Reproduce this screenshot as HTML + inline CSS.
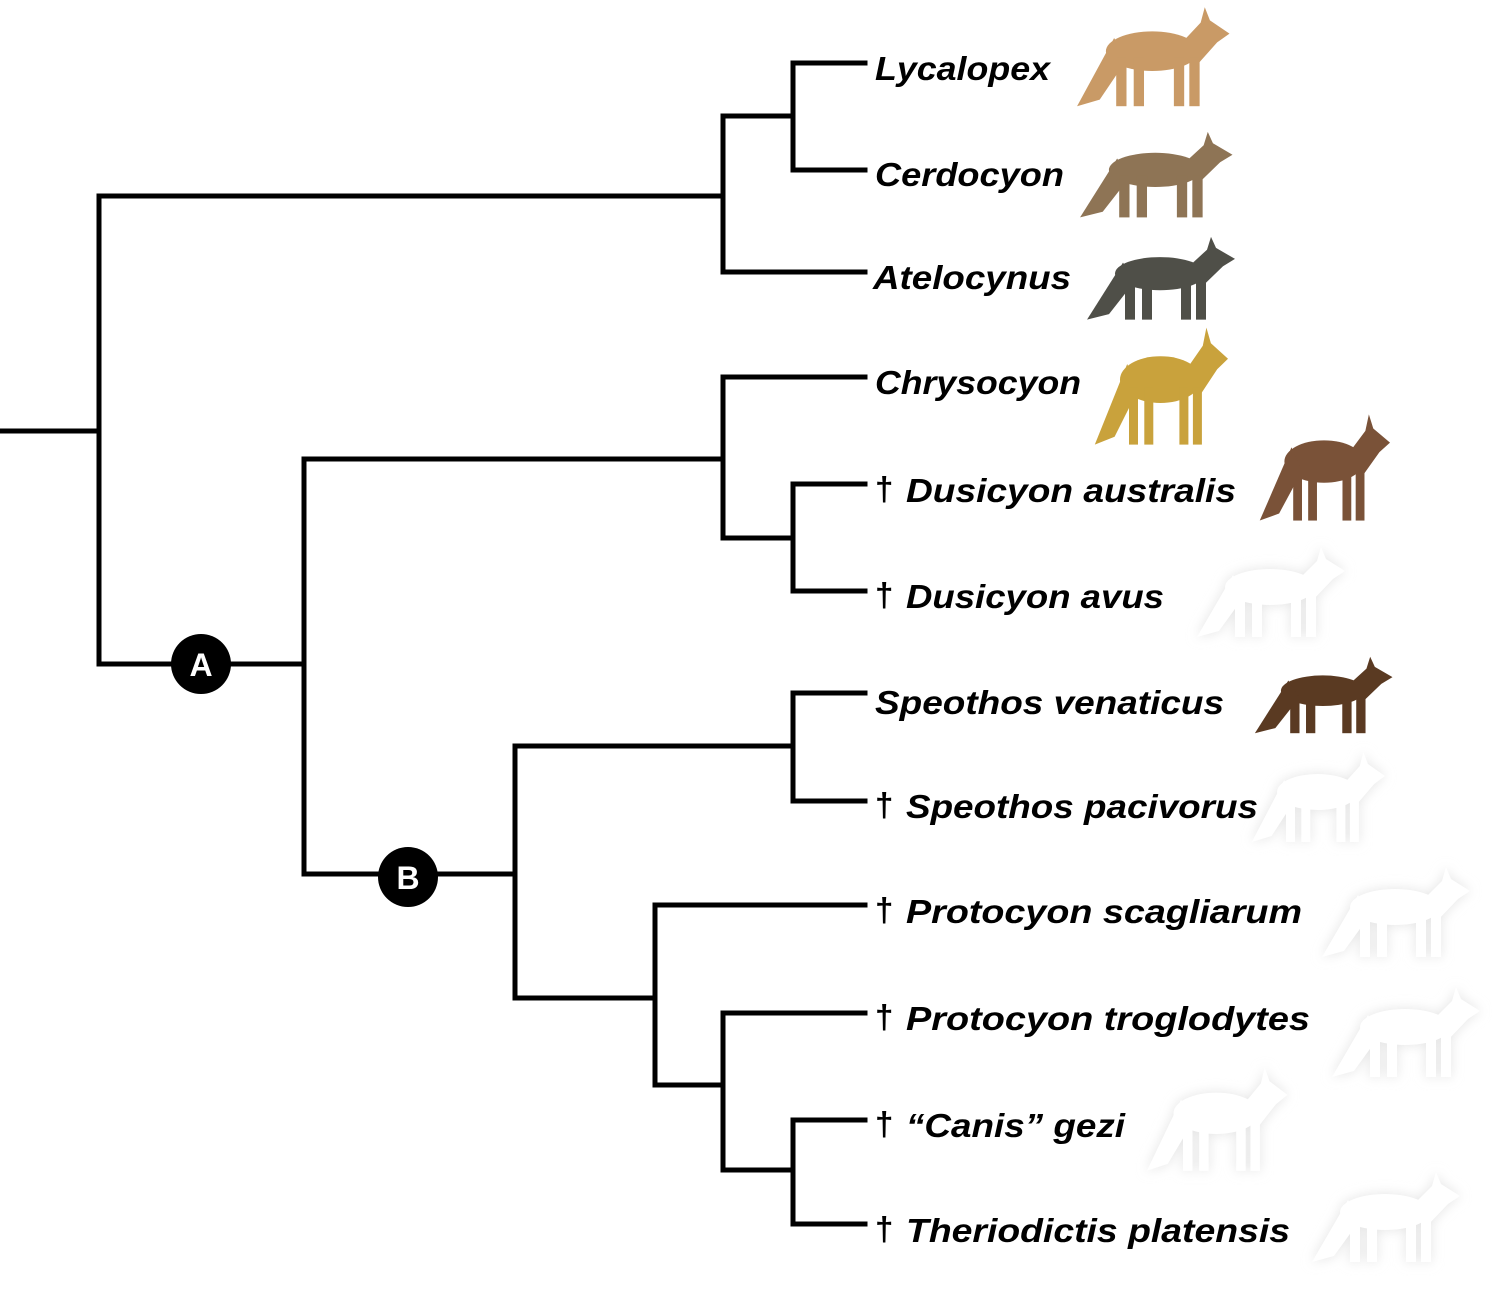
<!DOCTYPE html>
<html><head><meta charset="utf-8"><style>
html,body{margin:0;padding:0;background:#fff;}
svg{display:block}
text{font-family:"Liberation Sans",sans-serif;font-weight:bold;font-style:italic;font-size:33px;fill:#000}
</style></head><body>
<svg width="1500" height="1291" viewBox="0 0 1500 1291" xmlns="http://www.w3.org/2000/svg">
<defs>
<g id="fox">
<ellipse cx="75" cy="42" rx="45" ry="18"/>
<polygon points="100,38 122,16 126,2 131,14 150,26 138,34 118,55"/>
<polygon points="38,30 2,92 24,86 50,50"/>
<rect x="40" y="48" width="10" height="44"/>
<rect x="57" y="48" width="10" height="44"/>
<rect x="96" y="48" width="10" height="44"/>
<rect x="111" y="48" width="10" height="44"/>
</g>
<filter id="bl"><feGaussianBlur stdDeviation="6"/></filter>
</defs>
<g stroke="#000" stroke-width="5" fill="none" stroke-linecap="square">
<path d="M0,431H99 M99,196V664 M99,196H723 M723,116V272 M723,116H793 M793,63V170 M793,63H865 M793,170H865 M723,272H865"/>
<path d="M99,664H304 M304,459V874 M304,459H723 M723,377V538 M723,377H865 M723,538H793 M793,484V591 M793,484H865 M793,591H865"/>
<path d="M304,874H515 M515,746V998 M515,746H793 M793,693V801 M793,693H865 M793,801H865"/>
<path d="M515,998H655 M655,905V1085 M655,905H865 M655,1085H723 M723,1013V1170 M723,1013H865 M723,1170H793 M793,1120V1224 M793,1120H865 M793,1224H865"/>
</g>
<circle cx="201" cy="664" r="30" fill="#000"/>
<text x="201" y="676" text-anchor="middle" style="fill:#fff;font-style:normal;font-size:32px">A</text>
<circle cx="408" cy="877" r="30" fill="#000"/>
<text x="408" y="889" text-anchor="middle" style="fill:#fff;font-style:normal;font-size:32px">B</text>

<text x="875" y="80" textLength="175" lengthAdjust="spacingAndGlyphs">Lycalopex</text>
<text x="875" y="186" textLength="189" lengthAdjust="spacingAndGlyphs">Cerdocyon</text>
<text x="873" y="289" textLength="198" lengthAdjust="spacingAndGlyphs">Atelocynus</text>
<text x="875" y="394" textLength="206" lengthAdjust="spacingAndGlyphs">Chrysocyon</text>
<text x="875" y="500" style="font-style:normal">†</text>
<text x="906" y="502" textLength="330" lengthAdjust="spacingAndGlyphs">Dusicyon australis</text>
<text x="875" y="606" style="font-style:normal">†</text>
<text x="906" y="608" textLength="258" lengthAdjust="spacingAndGlyphs">Dusicyon avus</text>
<text x="875" y="714" textLength="349" lengthAdjust="spacingAndGlyphs">Speothos venaticus</text>
<text x="875" y="816" style="font-style:normal">†</text>
<text x="906" y="818" textLength="352" lengthAdjust="spacingAndGlyphs">Speothos pacivorus</text>
<text x="875" y="921" style="font-style:normal">†</text>
<text x="906" y="923" textLength="396" lengthAdjust="spacingAndGlyphs">Protocyon scagliarum</text>
<text x="875" y="1028" style="font-style:normal">†</text>
<text x="906" y="1030" textLength="404" lengthAdjust="spacingAndGlyphs">Protocyon troglodytes</text>
<text x="875" y="1135" style="font-style:normal">†</text>
<text x="906" y="1137" textLength="219" lengthAdjust="spacingAndGlyphs">“Canis” gezi</text>
<text x="875" y="1240" style="font-style:normal">†</text>
<text x="906" y="1242" textLength="384" lengthAdjust="spacingAndGlyphs">Theriodictis platensis</text>

<use href="#fox" fill="#c99a66" transform="translate(1075,5) scale(1.03,1.1)"/>
<use href="#fox" fill="#8e7455" transform="translate(1078,130) scale(1.03,0.95)"/>
<use href="#fox" fill="#4f4f48" transform="translate(1085,235) scale(1.0,0.92)"/>
<use href="#fox" fill="#c9a23c" transform="translate(1093,325) scale(0.9,1.3)"/>
<use href="#fox" fill="#7a5238" transform="translate(1258,412) scale(0.88,1.18)"/>
<use href="#fox" fill="#5a3a22" transform="translate(1253,655) scale(0.93,0.85)"/>
<g filter="url(#bl)" fill="#e4e4e4">
<use href="#fox" transform="translate(1195,545) scale(1.0,1.0)"/>
<use href="#fox" transform="translate(1250,750) scale(0.9,1.0)"/>
<use href="#fox" transform="translate(1320,865) scale(1.0,1.0)"/>
<use href="#fox" transform="translate(1330,985) scale(1.0,1.0)"/>
<use href="#fox" transform="translate(1145,1065) scale(0.95,1.15)"/>
<use href="#fox" transform="translate(1310,1170) scale(1.0,1.0)"/>
</g>
<g fill="#fff">
<use href="#fox" transform="translate(1195,545) scale(1.0,1.0)"/>
<use href="#fox" transform="translate(1250,750) scale(0.9,1.0)"/>
<use href="#fox" transform="translate(1320,865) scale(1.0,1.0)"/>
<use href="#fox" transform="translate(1330,985) scale(1.0,1.0)"/>
<use href="#fox" transform="translate(1145,1065) scale(0.95,1.15)"/>
<use href="#fox" transform="translate(1310,1170) scale(1.0,1.0)"/>
</g>
</svg>
</body></html>
